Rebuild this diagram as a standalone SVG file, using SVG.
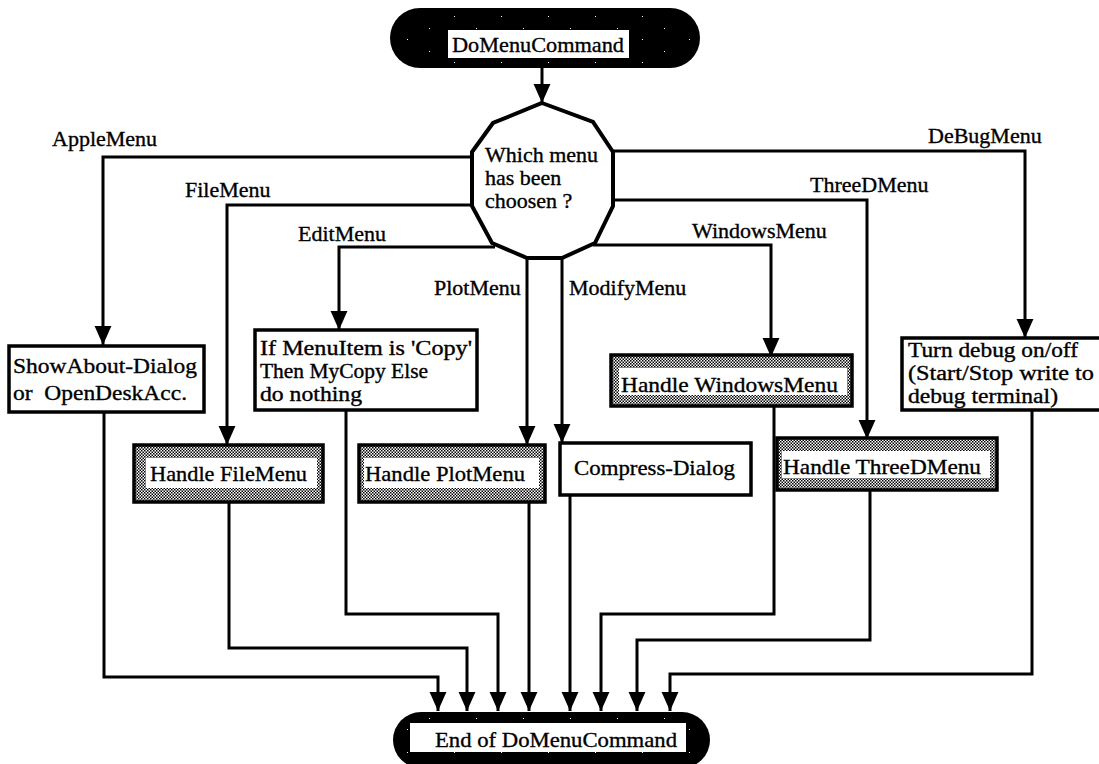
<svg xmlns="http://www.w3.org/2000/svg" width="1099" height="764" viewBox="0 0 1099 764">
  <defs>
    <style>
      text { font-family: "Liberation Serif", "Times New Roman", serif; font-size: 22px; fill: #000; stroke: #000; stroke-width: 0.35; }
      .small { font-size: 20px; }
      .wire { fill: none; stroke: #000; stroke-width: 3; stroke-linejoin: miter; }
      .arrow { marker-end: url(#head); }
      .box { fill: #fff; stroke: #000; stroke-width: 3.5; }
      .shaded { fill: url(#stipple); stroke: #000; stroke-width: 3.5; }
      .inner { fill: #fff; stroke: none; }
      .pill { fill: #000; }
      .grain { fill: url(#grain); }
      .label { fill: #fff; stroke: none; }
      .decision { fill: #fff; stroke: #000; stroke-width: 4; stroke-linejoin: miter; }
    </style>
    <marker id="head" markerUnits="userSpaceOnUse" markerWidth="20" markerHeight="20" viewBox="0 -9 19 18" refX="18" refY="0" orient="auto">
      <path d="M0,-8 L18,0 L0,8 z" fill="#000"/>
    </marker>
    <pattern id="stipple" width="3" height="3" patternUnits="userSpaceOnUse">
      <rect width="3" height="3" fill="#fff"/>
      <rect x="0" y="0" width="1.5" height="1.5" fill="#000"/>
      <rect x="1.5" y="1.5" width="1.5" height="1.5" fill="#000"/>
    </pattern>
    <pattern id="grain" width="47" height="23" patternUnits="userSpaceOnUse">
      <rect x="6" y="5" width="1" height="1" fill="#fff"/>
      <rect x="31" y="16" width="1" height="1" fill="#fff"/>
    </pattern>
  </defs>

  <rect width="1099" height="764" fill="#fff"/>

  <!-- Connectors and branch labels -->
  <g id="connectors">
    <!-- start to decision -->
    <path class="wire arrow" d="M542,68 V103"/>

    <!-- left branches -->
    <path class="wire arrow" d="M474,157 H103 V345"/>
    <path class="wire arrow" d="M474,205 H227 V445"/>
    <path class="wire arrow" d="M495,247 H339 V330"/>
    <path class="wire arrow" d="M527,258 V445"/>
    <!-- right branches -->
    <path class="wire arrow" d="M562,258 V443"/>
    <path class="wire arrow" d="M593,245 H771 V357"/>
    <path class="wire arrow" d="M611,200 H867 V439"/>
    <path class="wire arrow" d="M611,151 H1025 V338"/>

    <!-- returns to the end node -->
    <path class="wire arrow" d="M104,412 V677 H438 V711"/>
    <path class="wire arrow" d="M229,502 V648 H467 V711"/>
    <path class="wire arrow" d="M346,410 V614 H498 V711"/>
    <path class="wire arrow" d="M529,502 V711"/>
    <path class="wire arrow" d="M570,495 V711"/>
    <path class="wire arrow" d="M774,406 V614 H601 V711"/>
    <path class="wire arrow" d="M870,490 V640 H637 V711"/>
    <path class="wire arrow" d="M1032,410 V674 H670 V711"/>

    <!-- branch labels -->
    <text x="52" y="146">AppleMenu</text>
    <text x="185" y="197">FileMenu</text>
    <text x="298" y="241">EditMenu</text>
    <text x="434" y="295">PlotMenu</text>
    <text x="569" y="295">ModifyMenu</text>
    <text x="692" y="238">WindowsMenu</text>
    <text x="810" y="192">ThreeDMenu</text>
    <text x="928" y="143">DeBugMenu</text>
  </g>

  <!-- Start terminal -->
  <g id="start">
    <rect class="pill" x="390" y="8" width="310" height="60" rx="30" ry="30"/>
    <rect class="grain" x="398" y="12" width="294" height="52" rx="26" ry="26"/>
    <rect class="label" x="448" y="30" width="181" height="28"/>
    <text x="452" y="52" textLength="172" lengthAdjust="spacingAndGlyphs">DoMenuCommand</text>
  </g>

  <!-- Decision -->
  <g id="decision">
    <polygon class="decision" points="542,103 593,122 613,152 613,206 595,243 562,258 527,258 492,243 472,206 472,152 493,123"/>
    <text x="485" y="162">Which menu</text>
    <text x="485" y="185">has been</text>
    <text x="485" y="208">choosen ?</text>
  </g>

  <!-- Apple menu action -->
  <g id="apple-action">
    <rect class="box" x="9" y="346" width="195" height="66"/>
    <text x="13" y="373" textLength="184" lengthAdjust="spacingAndGlyphs">ShowAbout-Dialog</text>
    <text x="13" y="400" xml:space="preserve" textLength="174" lengthAdjust="spacingAndGlyphs">or  OpenDeskAcc.</text>
  </g>

  <!-- File menu handler -->
  <g id="file-handler">
    <rect class="shaded" x="134" y="445" width="189" height="57"/>
    <rect class="inner" x="146" y="458" width="171" height="30"/>
    <text x="150" y="481" textLength="157" lengthAdjust="spacingAndGlyphs">Handle FileMenu</text>
  </g>

  <!-- Edit menu action -->
  <g id="edit-action">
    <rect class="box" x="255" y="330" width="222" height="80"/>
    <text class="small" x="260" y="355" textLength="212" lengthAdjust="spacingAndGlyphs">If MenuItem is 'Copy'</text>
    <text class="small" x="260" y="378" textLength="168" lengthAdjust="spacingAndGlyphs">Then MyCopy Else</text>
    <text class="small" x="260" y="401" textLength="102" lengthAdjust="spacingAndGlyphs">do nothing</text>
  </g>

  <!-- Plot menu handler -->
  <g id="plot-handler">
    <rect class="shaded" x="359" y="445" width="186" height="57"/>
    <rect class="inner" x="364" y="458" width="175" height="30"/>
    <text x="365" y="481" textLength="160" lengthAdjust="spacingAndGlyphs">Handle PlotMenu</text>
  </g>

  <!-- Modify menu action -->
  <g id="modify-action">
    <rect class="box" x="560" y="443" width="191" height="52"/>
    <text x="574" y="475" textLength="161" lengthAdjust="spacingAndGlyphs">Compress-Dialog</text>
  </g>

  <!-- Windows menu handler -->
  <g id="windows-handler">
    <rect class="shaded" x="611" y="355" width="241" height="51"/>
    <rect class="inner" x="619" y="368" width="228" height="27"/>
    <text x="621" y="392" textLength="217" lengthAdjust="spacingAndGlyphs">Handle WindowsMenu</text>
  </g>

  <!-- ThreeD menu handler -->
  <g id="threed-handler">
    <rect class="shaded" x="777" y="438" width="220" height="52"/>
    <rect class="inner" x="782" y="451" width="208" height="27"/>
    <text x="783" y="474" textLength="198" lengthAdjust="spacingAndGlyphs">Handle ThreeDMenu</text>
  </g>

  <!-- Debug menu action -->
  <g id="debug-action">
    <rect class="box" x="902" y="338" width="200" height="72"/>
    <text class="small" x="908" y="357" textLength="170" lengthAdjust="spacingAndGlyphs">Turn debug on/off</text>
    <text class="small" x="908" y="380" textLength="186" lengthAdjust="spacingAndGlyphs">(Start/Stop write to</text>
    <text class="small" x="908" y="403" textLength="150" lengthAdjust="spacingAndGlyphs">debug terminal)</text>
  </g>

  <!-- End terminal -->
  <g id="end">
    <rect class="pill" x="393" y="712" width="317" height="56" rx="28" ry="28"/>
    <rect class="grain" x="400" y="716" width="303" height="48" rx="24" ry="24"/>
    <rect class="label" x="410" y="723" width="276" height="29"/>
    <text x="435" y="747" textLength="242" lengthAdjust="spacingAndGlyphs">End of DoMenuCommand</text>
  </g>
</svg>
